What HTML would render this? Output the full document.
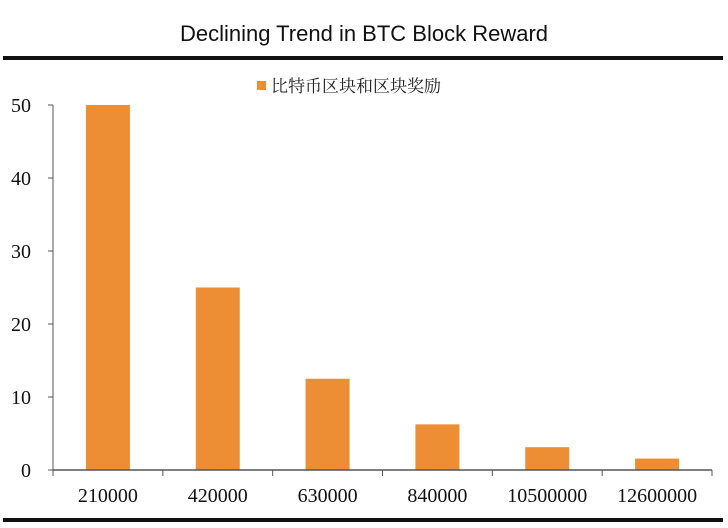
<!DOCTYPE html>
<html><head><meta charset="utf-8"><style>
body{margin:0;background:#fff;}
svg{display:block;}
</style></head><body>
<svg width="728" height="528" xmlns="http://www.w3.org/2000/svg">
<text x="364" y="41" text-anchor="middle" font-family="'Liberation Sans',sans-serif" font-size="22" fill="#111">Declining Trend in BTC Block Reward</text>
<rect x="3" y="56" width="720" height="4" fill="#111"/>
<rect x="3" y="518" width="720" height="4" fill="#111"/>
<g>
<rect x="257" y="81" width="9" height="9" fill="#ED8D34"/>
<text x="271" y="92" font-family="'Noto Serif CJK SC',serif" font-size="17" fill="#222">比特币区块和区块奖励</text>
</g>
<g id="plot"></g>
</svg>
<script>
const categories=["210000","420000","630000","840000","10500000","12600000"];
const values=[50,25,12.5,6.25,3.125,1.5625];
const yTicks=[0,10,20,30,40,50];
const ns="http://www.w3.org/2000/svg";
const g=document.getElementById('plot');
const x0=53,x1=712,y0=470,yTop=105,yMax=50;
const bw=(x1-x0)/categories.length;
const ys=v=>y0-(v/yMax)*(y0-yTop);
function mk(t,a){const e=document.createElementNS(ns,t);for(const k in a)e.setAttribute(k,a[k]);g.appendChild(e);return e;}
const yl=mk('line',{x1:x0,y1:y0,x2:x0,y2:yTop,stroke:'#555','stroke-width':1});


yTicks.forEach(t=>{
 const tk=mk('line',{x1:x0-5,x2:x0,y1:ys(t),y2:ys(t),stroke:'#555'});
 
 
 const tx=mk('text',{x:x0-22,y:ys(t)+7,'text-anchor':'end','font-family':"'Liberation Serif',serif",'font-size':20,fill:'#111'});
 tx.textContent=t;
 
 
});
values.forEach((v,i)=>{
 const cx=x0+bw*(i+0.5);
 const r=mk('rect',{x:cx-22,y:ys(v),width:44,height:y0-ys(v),fill:'#ED8D34'});
 
 
 const tx=mk('text',{x:cx,y:y0+32,'text-anchor':'middle','font-family':"'Liberation Serif',serif",'font-size':20,fill:'#111'});
 tx.textContent=categories[i];
 
 
});
for(let i=0;i<=categories.length;i++){
 const tk=mk('line',{x1:x0+bw*i,x2:x0+bw*i,y1:y0,y2:y0+6,stroke:'#555'});
 
 
}
const xl=mk('line',{x1:x0,y1:y0,x2:x1,y2:y0,stroke:'#555','stroke-width':1.5});


</script>
</body></html>
